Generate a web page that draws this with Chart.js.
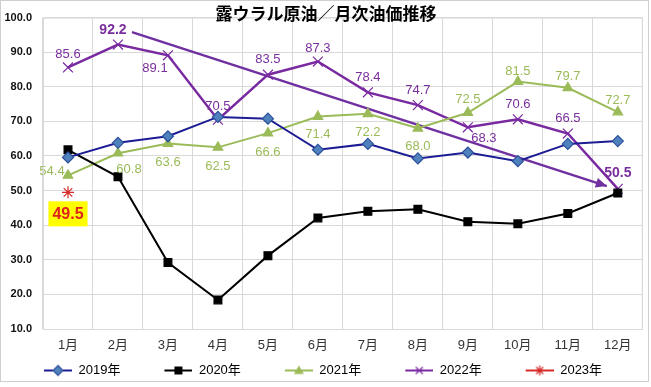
<!DOCTYPE html>
<html>
<head>
<meta charset="utf-8">
<script src="https://cdn.jsdelivr.net/npm/chart.js@4/dist/chart.umd.min.js"></script>
<style>
  html,body{margin:0;padding:0;background:#fff}
</style>
</head>
<body>
<canvas id="c" width="651" height="387"></canvas>
<script>
// ---- data ----
const months = ["1月","2月","3月","4月","5月","6月","7月","8月","9月","10月","11月","12月"];
const y2019 = [59.6, 63.8, 65.7, 71.3, 70.8, 61.8, 63.5, 59.3, 61.0, 58.5, 63.5, 64.3];
const y2020 = [61.8, 54.0, 29.2, 18.4, 31.2, 42.1, 44.0, 44.6, 41.0, 40.4, 43.4, 49.3];
const y2021 = [54.4, 60.8, 63.6, 62.5, 66.6, 71.4, 72.2, 68.0, 72.5, 81.5, 79.7, 72.7];
const y2022 = [85.6, 92.2, 89.1, 70.5, 83.5, 87.3, 78.4, 74.7, 68.3, 70.6, 66.5, 50.5];
const y2023 = [49.5, null, null, null, null, null, null, null, null, null, null, null];
// trend arrow (month index, price)
const trendX = [1.28, 10.78];
const trendY = [95.8, 51.3];

// ---- label placement (style only: dx, dy, bold) ----
const pos2021 = [[-16,-5],[11,15],[0,18],[0,18],[0,18],[0,17],[0,18],[0,17],[0,-14],[0,-11],[0,-12],[0,-13]];
const pos2022 = [[0,-14],[-5,-15,1],[-13,12],[0,-14],[0,-16],[0,-14],[0,-16],[0,-16],[16,10],[0,-16],[0,-16],[0,-17,1]];
const pos2023 = [[0,21]];

const FONT = "'Liberation Sans', Arial, 'Noto Sans CJK JP', sans-serif";
const GRID = "#d9d9d9";

function drawMarker(ctx, style, x, y, r, fill, stroke){
  ctx.save();
  ctx.fillStyle = fill; ctx.strokeStyle = stroke; ctx.lineWidth = 1.2;
  ctx.beginPath();
  if(style==="rectRot"){
    ctx.moveTo(x, y-r); ctx.lineTo(x+r, y); ctx.lineTo(x, y+r); ctx.lineTo(x-r, y); ctx.closePath();
    ctx.fill(); ctx.stroke();
  } else if(style==="rect"){
    ctx.rect(x-r*0.8, y-r*0.8, r*1.6, r*1.6); ctx.fill();
  } else if(style==="triangle"){
    ctx.moveTo(x, y-r); ctx.lineTo(x+r, y+r*0.7); ctx.lineTo(x-r, y+r*0.7); ctx.closePath(); ctx.fill();
  } else if(style==="crossRot"){
    ctx.moveTo(x-r*0.7,y-r*0.7); ctx.lineTo(x+r*0.7,y+r*0.7);
    ctx.moveTo(x+r*0.7,y-r*0.7); ctx.lineTo(x-r*0.7,y+r*0.7); ctx.stroke();
  } else if(style==="star"){
    ctx.moveTo(x-r*0.7,y-r*0.7); ctx.lineTo(x+r*0.7,y+r*0.7);
    ctx.moveTo(x+r*0.7,y-r*0.7); ctx.lineTo(x-r*0.7,y+r*0.7);
    ctx.moveTo(x,y-r); ctx.lineTo(x,y+r); ctx.stroke();
  }
  ctx.restore();
}

// legend icon: transparent lead-in, then line + marker (Excel style)
function legendIcon(ds){
  const c = document.createElement("canvas");
  c.width = 64; c.height = 14;
  const g = c.getContext("2d");
  g.strokeStyle = ds.borderColor; g.lineWidth = 2;
  g.beginPath(); g.moveTo(36, 7); g.lineTo(64, 7); g.stroke();
  drawMarker(g, ds.pointStyle, 50, 7, 5, ds.pointBackgroundColor, ds.pointBorderColor);
  return c;
}

const labelPlugin = {
  id: "valueLabels",
  afterDatasetsDraw(chart){
    const ctx = chart.ctx;
    chart.data.datasets.forEach((ds, i)=>{
      if(!ds.labelPos) return;
      const meta = chart.getDatasetMeta(i);
      meta.data.forEach((pt, j)=>{
        const v = ds.data[j];
        if(v == null || !ds.labelPos[j]) return;
        const [dx, dy, bold] = ds.labelPos[j];
        const x = pt.x + dx, y = pt.y + dy;
        const txt = v.toFixed(1);
        ctx.save();
        ctx.textAlign = "center"; ctx.textBaseline = "middle";
        if(ds.labelBox){
          ctx.font = "bold 16px " + FONT;
          const w = ctx.measureText(txt).width + 8;
          ctx.fillStyle = ds.labelBox;
          ctx.fillRect(x - w/2, y - 12, w, 25);
          ctx.fillStyle = ds.labelColor;
        } else {
          ctx.font = (bold ? "bold 14px " : "13px ") + FONT;
          ctx.fillStyle = ds.labelColor;
        }
        ctx.fillText(txt, x, y + 1);
        ctx.restore();
      });
    });
  }
};

const arrowPlugin = {
  id: "arrowHead",
  afterDatasetsDraw(chart){
    chart.data.datasets.forEach((ds, i)=>{
      if(!ds.arrow) return;
      const pts = chart.getDatasetMeta(i).data;
      const a = pts[pts.length-2], b = pts[pts.length-1];
      const ang = Math.atan2(b.y - a.y, b.x - a.x);
      const ctx = chart.ctx, L = 11, W = 5;
      ctx.save();
      ctx.translate(b.x, b.y); ctx.rotate(ang);
      ctx.fillStyle = ds.borderColor;
      ctx.beginPath(); ctx.moveTo(0,0); ctx.lineTo(-L, -W); ctx.lineTo(-L, W); ctx.closePath(); ctx.fill();
      ctx.restore();
    });
  }
};

const framePlugin = {
  id: "frame",
  beforeDraw(chart){
    const ctx = chart.ctx;
    ctx.save();
    ctx.fillStyle = "#fff"; ctx.fillRect(0, 0, chart.width, chart.height);
    ctx.restore();
  },
  afterDraw(chart){
    const ctx = chart.ctx, a = chart.chartArea;
    ctx.save();
    ctx.strokeStyle = GRID; ctx.lineWidth = 1;
    ctx.strokeRect(a.left + 0.5, a.top + 0.5, a.right - a.left - 1, a.bottom - a.top);
    ctx.strokeStyle = "#cfcfcf";
    ctx.strokeRect(0.5, 0.5, 648, 381);
    ctx.fillStyle = "#000";
    ctx.font = "bold 17px " + FONT;
    ctx.textAlign = "center"; ctx.textBaseline = "middle";
    ctx.fillText("露ウラル原油／月次油価推移", 326, 15);
    ctx.restore();
  }
};

const lineDs = (label, data, color, style, fill, stroke, r, extra={}) => Object.assign({
  label, data,
  borderColor: color, borderWidth: 2,
  pointStyle: style, pointRadius: r, pointHoverRadius: r,
  pointBackgroundColor: fill, pointBorderColor: stroke, pointBorderWidth: 1.2,
  tension: 0, spanGaps: false
}, extra);

const datasets = [
  lineDs("2019年", y2019, "#1c1c94", "rectRot", "#4f81bd", "#2c4f9a", 5.5),
  lineDs("2020年", y2020, "#000000", "rect", "#000000", "#000000", 5.5),
  lineDs("2021年", y2021, "#9bbb59", "triangle", "#9bbb59", "#9bbb59", 5.5,
    { labelPos: pos2021, labelColor: "#9bbb59" }),
  lineDs("2022年", y2022, "#7a2aa0", "crossRot", "#7a2aa0", "#7a2aa0", 7,
    { borderWidth: 2.5, labelPos: pos2022, labelColor: "#7a2e9c" }),
  lineDs("2023年", y2023, "#d62a2a", "star", "#d62a2a", "#d62a2a", 6,
    { labelPos: pos2023, labelColor: "#e0201c", labelBox: "#ffff00" }),
  {
    label: "trend", arrow: true, xAxisID: "xt",
    data: trendX.map((x, k)=>({ x, y: trendY[k] })),
    borderColor: "#7030a0", borderWidth: 2.5, pointRadius: 0, tension: 0
  }
];

new Chart(document.getElementById("c"), {
  type: "line",
  data: { labels: months, datasets },
  options: {
    responsive: false,
    animation: false,
    devicePixelRatio: 1,
    layout: { padding: { left: 0, right: 8, top: 7, bottom: 0 } },
    scales: {
      x: {
        offset: true,
        grid: { color: GRID, offset: true, drawTicks: false },
        border: { color: GRID },
        ticks: { padding: 9, color: "#333", font: { size: 13, family: FONT } },
        afterFit(s){ s.height = 27; }
      },
      xt: { type: "linear", display: false, min: -0.5, max: 11.5 },
      y: {
        min: 10, max: 100,
        grid: { color: GRID, drawTicks: false },
        border: { color: GRID },
        ticks: {
          stepSize: 10, padding: 11, color: "#111",
          font: { size: 11, weight: "bold", family: FONT },
          callback: v => Number(v).toFixed(1)
        },
        afterFit(s){ s.width = 43; }
      }
    },
    plugins: {
      legend: {
        position: "bottom",
        align: "start",
        labels: {
          usePointStyle: true, pointStyleWidth: 64, padding: 8,
          color: "#222", font: { size: 13, family: FONT },
          generateLabels(chart){
            return chart.data.datasets.map((ds, i)=>({
              text: ds.label, pointStyle: legendIcon(ds), datasetIndex: i,
              hidden: false, lineWidth: 0, fillStyle: "transparent", strokeStyle: "transparent"
            })).filter(it => !chart.data.datasets[it.datasetIndex].arrow);
          }
        }
      },
      tooltip: { enabled: false }
    }
  },
  plugins: [framePlugin, labelPlugin, arrowPlugin]
});
</script>
</body>
</html>
